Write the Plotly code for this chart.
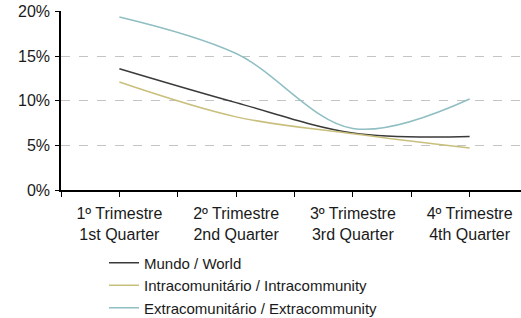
import plotly.graph_objects as go

categories = ["1º Trimestre<br>1st Quarter", "2º Trimestre<br>2nd Quarter",
              "3º Trimestre<br>3rd Quarter", "4º Trimestre<br>4th Quarter"]
world = [0.136, 0.098, 0.064, 0.060]
intra = [0.121, 0.082, 0.063, 0.047]
extra = [0.194, 0.153, 0.069, 0.102]
series_names = ["Mundo / World", "Intracomunitário / Intracommunity",
                "Extracomunitário / Extracommunity"]
colors = ["#3a3a3a", "#c9bf7c", "#8fbec3"]

xpos = list(range(len(categories)))
fig = go.Figure()
for name, vals, col in zip(series_names, [world, intra, extra], colors):
    fig.add_trace(go.Scatter(x=xpos, y=vals, mode="lines", name=name,
                             line=dict(color=col, width=1.5, shape="spline", smoothing=1.0)))

tickvals = [i * 0.5 - 0.5 for i in range(9)]
ticktext = [categories[int(v)] if float(v).is_integer() else "" for v in tickvals]

fig.update_layout(
    width=521, height=318,
    margin=dict(l=61, r=0, t=11, b=128, autoexpand=False),
    paper_bgcolor="white", plot_bgcolor="white",
    font=dict(family="Liberation Sans, Arial, sans-serif", size=16, color="#1a1a1a"),
    showlegend=True,
    legend=dict(x=0.0935, y=-0.316, xanchor="left", yanchor="top",
                orientation="v", font=dict(size=15), tracegroupgap=0,
                bgcolor="rgba(0,0,0,0)", itemwidth=30),
    xaxis=dict(range=[-0.5, 3.44], tickmode="array", tickvals=tickvals, ticktext=ticktext,
               showgrid=False, zeroline=False, showline=True, linecolor="black", linewidth=1.5,
               ticks="outside", ticklen=5, tickcolor="black", tickwidth=1.2, fixedrange=True,
               automargin=False, ticklabelstandoff=3, ticklabeloverflow="allow"),
    yaxis=dict(range=[0, 0.2007], tickmode="array", tickvals=[0, 0.05, 0.1, 0.15, 0.2],
               tickformat=".0%",
               showgrid=True, gridcolor="#c4c4c4", griddash="dash", gridwidth=1,
               zeroline=False, showline=True, linecolor="black", linewidth=1.5,
               ticks="outside", ticklen=4, tickcolor="black", tickwidth=1.2, fixedrange=True,
               automargin=False, ticklabelstandoff=2, ticklabeloverflow="allow"),
)
fig.write_html("out.html", config={"displayModeBar": False},
               post_script="document.body.style.margin='0';document.body.style.overflow='hidden';")
